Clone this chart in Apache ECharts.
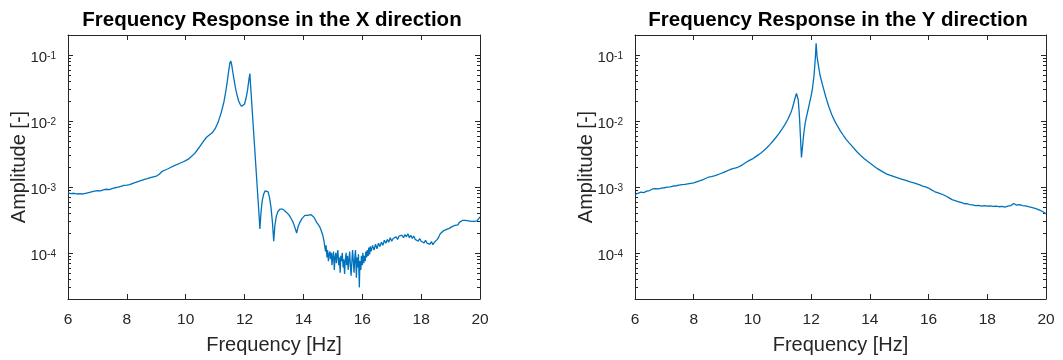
<!DOCTYPE html>
<html>
<head>
<meta charset="utf-8">
<script src="https://cdn.jsdelivr.net/npm/echarts@6/dist/echarts.min.js"></script>
<style>
  html, body { margin: 0; padding: 0; background: #fff; }
  #chart { width: 1063px; height: 360px; }
</style>
</head>
<body>
<div id="chart"></div>
<script>
// X direction response (frequency in Hz, amplitude)
const xFreq = [
  6.0, 6.1, 6.2, 6.3, 6.4, 6.5, 6.6, 6.7, 6.8, 6.9,
  7.0, 7.1, 7.2, 7.3, 7.4, 7.5, 7.6, 7.7, 7.8, 7.9,
  8.0, 8.1, 8.2, 8.3, 8.4, 8.5, 8.6, 8.7, 8.8, 8.9,
  9.0, 9.1, 9.2, 9.3, 9.4, 9.5, 9.6, 9.7, 9.8, 9.9,
  10.0, 10.1, 10.2, 10.3, 10.4, 10.5, 10.6, 10.7, 10.8, 10.9,
  11.0, 11.1, 11.2, 11.3, 11.35, 11.4, 11.45, 11.5, 11.53, 11.56,
  11.6, 11.65, 11.7, 11.75, 11.8, 11.85, 11.9, 11.95, 12.0, 12.05,
  12.1, 12.15, 12.18, 12.2, 12.25, 12.3, 12.35, 12.4, 12.45, 12.5,
  12.52, 12.56, 12.6, 12.65, 12.7, 12.75, 12.8, 12.85, 12.9, 12.95,
  12.99, 13.03, 13.08, 13.13, 13.2, 13.26, 13.3, 13.35, 13.4, 13.45,
  13.5, 13.55, 13.6, 13.65, 13.7, 13.77, 13.82, 13.88, 13.95, 14.0,
  14.05, 14.1, 14.15, 14.2, 14.25, 14.3, 14.35, 14.4, 14.45, 14.5,
  14.55, 14.6, 14.65, 14.7, 14.72, 14.75, 14.77, 14.8, 14.82, 14.85,
  14.87, 14.9, 14.92, 14.95, 14.97, 15.0, 15.02, 15.05, 15.07, 15.1,
  15.12, 15.15, 15.17, 15.2, 15.22, 15.25, 15.27, 15.3, 15.32, 15.35,
  15.37, 15.4, 15.42, 15.45, 15.47, 15.5, 15.52, 15.55, 15.57, 15.6,
  15.62, 15.65, 15.67, 15.7, 15.72, 15.75, 15.77, 15.8, 15.82, 15.85,
  15.87, 15.9, 15.92, 15.95, 15.97, 16.0, 16.02, 16.05, 16.07, 16.1,
  16.12, 16.15, 16.17, 16.2, 16.22, 16.25, 16.27, 16.3, 16.35, 16.4,
  16.45, 16.5, 16.55, 16.6, 16.65, 16.7, 16.75, 16.8, 16.85, 16.9,
  16.95, 17.0, 17.05, 17.1, 17.15, 17.2, 17.25, 17.3, 17.35, 17.4,
  17.45, 17.5, 17.55, 17.6, 17.65, 17.7, 17.75, 17.8, 17.85, 17.9,
  17.95, 18.0, 18.05, 18.1, 18.15, 18.2, 18.25, 18.3, 18.35, 18.4,
  18.45, 18.5, 18.55, 18.6, 18.65, 18.7, 18.75, 18.8, 18.85, 18.9,
  18.95, 19.0, 19.05, 19.1, 19.15, 19.2, 19.25, 19.3, 19.35, 19.4,
  19.45, 19.5, 19.55, 19.6, 19.65, 19.7, 19.75, 19.8, 19.85, 19.9,
  19.95, 20.0
];
const xAmp = [
  8.1e-4, 7.9e-4, 8.0e-4, 7.8e-4, 7.9e-4, 7.8e-4, 8.0e-4, 8.2e-4, 8.4e-4, 8.6e-4,
  8.8e-4, 8.7e-4, 9.0e-4, 9.2e-4, 9.1e-4, 9.4e-4, 9.7e-4, 9.9e-4, 1.02e-3, 1.05e-3,
  1.06e-3, 1.08e-3, 1.13e-3, 1.17e-3, 1.21e-3, 1.25e-3, 1.30e-3, 1.33e-3, 1.38e-3, 1.42e-3,
  1.45e-3, 1.55e-3, 1.72e-3, 1.80e-3, 1.88e-3, 1.98e-3, 2.08e-3, 2.18e-3, 2.28e-3, 2.38e-3,
  2.50e-3, 2.65e-3, 2.90e-3, 3.20e-3, 3.65e-3, 4.20e-3, 4.90e-3, 5.60e-3, 6.10e-3, 6.60e-3,
  7.60e-3, 9.5e-3, 1.30e-2, 1.95e-2, 2.6e-2, 3.6e-2, 5.3e-2, 7.5e-2, 8.1e-2, 7.2e-2,
  5.5e-2, 4.0e-2, 3.0e-2, 2.4e-2, 2.0e-2, 1.78e-2, 1.66e-2, 1.65e-2, 1.8e-2, 2.2e-2,
  2.9e-2, 4.3e-2, 5.2e-2, 3.7e-2, 1.7e-2, 7.6e-3, 3.5e-3, 1.58e-3, 7.2e-4, 3.3e-4,
  2.3e-4, 4.2e-4, 6.2e-4, 7.8e-4, 8.7e-4, 9.0e-4, 8.4e-4, 6.8e-4, 4.8e-4, 2.8e-4,
  1.5e-4, 2.6e-4, 3.6e-4, 4.2e-4, 4.6e-4, 4.8e-4, 4.6e-4, 4.5e-4, 4.2e-4, 4.0e-4,
  3.8e-4, 3.5e-4, 3.2e-4, 2.9e-4, 2.5e-4, 2.0e-4, 2.5e-4, 2.9e-4, 3.3e-4, 3.5e-4,
  3.7e-4, 3.8e-4, 3.7e-4, 3.9e-4, 3.8e-4, 3.7e-4, 3.5e-4, 3.2e-4, 2.9e-4, 2.7e-4,
  2.5e-4, 2.2e-4, 1.9e-4, 1.5e-4, 1.3e-4, 1.05e-4, 1.3e-4, 8.5e-5, 1.1e-4, 7.5e-5,
  9.5e-5, 1.05e-4, 8e-5, 1.0e-4, 6.5e-5, 9e-5, 1.05e-4, 5.5e-5, 8.5e-5, 1.0e-4,
  7e-5, 9.5e-5, 1.1e-4, 6.5e-5, 8.5e-5, 5e-5, 9e-5, 7.5e-5, 1.0e-4, 6e-5,
  8e-5, 4.8e-5, 7.5e-5, 1.0e-4, 6.5e-5, 9e-5, 5.5e-5, 8e-5, 1.05e-4, 6e-5,
  4.5e-5, 8e-5, 1.1e-4, 7e-5, 5e-5, 9e-5, 1.1e-4, 4.2e-5, 8.5e-5, 6e-5,
  9.5e-5, 3.0e-5, 7.5e-5, 5.5e-5, 9e-5, 6.5e-5, 1.0e-4, 7e-5, 9e-5, 7.5e-5,
  1.05e-4, 8.5e-5, 1.1e-4, 9e-5, 1.2e-4, 9.5e-5, 1.25e-4, 1.05e-4, 1.3e-4, 1.1e-4,
  1.35e-4, 1.15e-4, 1.4e-4, 1.25e-4, 1.45e-4, 1.3e-4, 1.55e-4, 1.4e-4, 1.6e-4, 1.45e-4,
  1.7e-4, 1.5e-4, 1.65e-4, 1.55e-4, 1.75e-4, 1.6e-4, 1.8e-4, 1.7e-4, 1.85e-4, 1.7e-4,
  1.9e-4, 1.75e-4, 1.95e-4, 1.7e-4, 1.85e-4, 1.65e-4, 1.8e-4, 1.6e-4, 1.7e-4, 1.5e-4,
  1.65e-4, 1.5e-4, 1.6e-4, 1.42e-4, 1.55e-4, 1.4e-4, 1.5e-4, 1.35e-4, 1.48e-4, 1.33e-4,
  1.45e-4, 1.4e-4, 1.6e-4, 1.75e-4, 1.95e-4, 2.0e-4, 2.15e-4, 2.05e-4, 2.25e-4, 2.15e-4,
  2.35e-4, 2.3e-4, 2.5e-4, 2.4e-4, 2.6e-4, 2.75e-4, 2.65e-4, 2.9e-4, 3.0e-4, 3.1e-4,
  3.0e-4, 3.1e-4, 2.95e-4, 3.05e-4, 2.95e-4, 3.0e-4, 2.9e-4, 3.0e-4, 3.1e-4, 3.05e-4,
  3.2e-4, 3.5e-4
];

// Y direction response
const yFreq = [
  6.0, 6.1, 6.2, 6.3, 6.4, 6.5, 6.6, 6.7, 6.8, 6.9,
  7.0, 7.1, 7.2, 7.3, 7.4, 7.5, 7.6, 7.7, 7.8, 7.9,
  8.0, 8.1, 8.2, 8.3, 8.4, 8.5, 8.6, 8.7, 8.8, 8.9,
  9.0, 9.1, 9.2, 9.3, 9.4, 9.5, 9.6, 9.7, 9.8, 9.9,
  10.0, 10.1, 10.2, 10.3, 10.4, 10.5, 10.6, 10.7, 10.8, 10.9,
  11.0, 11.1, 11.2, 11.3, 11.35, 11.4, 11.45, 11.5, 11.53, 11.56,
  11.6, 11.63, 11.67, 11.7, 11.75, 11.8, 11.85, 11.9, 11.95, 12.0,
  12.05, 12.1, 12.14, 12.17, 12.2, 12.25, 12.3, 12.38, 12.5, 12.6,
  12.7, 12.8, 12.9, 13.0, 13.1, 13.2, 13.3, 13.4, 13.5, 13.6,
  13.7, 13.8, 13.9, 14.0, 14.1, 14.2, 14.3, 14.4, 14.5, 14.6,
  14.7, 14.8, 14.9, 15.0, 15.1, 15.2, 15.3, 15.4, 15.5, 15.6,
  15.7, 15.8, 15.9, 16.0, 16.1, 16.2, 16.3, 16.4, 16.5, 16.6,
  16.7, 16.8, 16.9, 17.0, 17.1, 17.2, 17.3, 17.4, 17.5, 17.6,
  17.7, 17.8, 17.9, 18.0, 18.1, 18.2, 18.3, 18.4, 18.5, 18.6,
  18.7, 18.8, 18.9, 19.0, 19.1, 19.2, 19.3, 19.4, 19.5, 19.6,
  19.7, 19.8, 19.9, 20.0
];
const yAmp = [
  7.6e-4, 8.0e-4, 8.3e-4, 8.2e-4, 8.6e-4, 8.8e-4, 9.3e-4, 9.4e-4, 9.3e-4, 9.6e-4,
  9.7e-4, 9.9e-4, 1.0e-3, 1.03e-3, 1.04e-3, 1.06e-3, 1.08e-3, 1.09e-3, 1.11e-3, 1.13e-3,
  1.15e-3, 1.19e-3, 1.23e-3, 1.28e-3, 1.34e-3, 1.40e-3, 1.43e-3, 1.47e-3, 1.52e-3, 1.58e-3,
  1.64e-3, 1.72e-3, 1.80e-3, 1.87e-3, 1.92e-3, 1.98e-3, 2.08e-3, 2.22e-3, 2.38e-3, 2.52e-3,
  2.65e-3, 2.85e-3, 3.05e-3, 3.30e-3, 3.60e-3, 3.95e-3, 4.40e-3, 4.95e-3, 5.60e-3, 6.40e-3,
  7.40e-3, 8.70e-3, 1.04e-2, 1.30e-2, 1.5e-2, 1.8e-2, 2.2e-2, 2.6e-2, 2.6e-2, 2.1e-2,
  1.2e-2, 6.5e-3, 2.8e-3, 3.8e-3, 6.5e-3, 9.5e-3, 1.2e-2, 1.5e-2, 1.9e-2, 2.4e-2,
  3.2e-2, 5.0e-2, 8.5e-2, 1.5e-1, 9.5e-2, 6.8e-2, 5.0e-2, 3.6e-2, 2.3e-2, 1.65e-2,
  1.25e-2, 1.0e-2, 8.3e-3, 7.0e-3, 6.0e-3, 5.2e-3, 4.6e-3, 4.1e-3, 3.65e-3, 3.25e-3,
  2.95e-3, 2.7e-3, 2.48e-3, 2.3e-3, 2.12e-3, 1.97e-3, 1.84e-3, 1.73e-3, 1.63e-3, 1.55e-3,
  1.49e-3, 1.44e-3, 1.39e-3, 1.34e-3, 1.30e-3, 1.26e-3, 1.22e-3, 1.18e-3, 1.15e-3, 1.11e-3,
  1.07e-3, 1.03e-3, 1.0e-3, 9.6e-4, 9.0e-4, 8.5e-4, 8.2e-4, 7.9e-4, 7.6e-4, 7.2e-4,
  6.8e-4, 6.4e-4, 6.2e-4, 6.0e-4, 5.8e-4, 5.6e-4, 5.55e-4, 5.4e-4, 5.35e-4, 5.2e-4,
  5.25e-4, 5.1e-4, 5.2e-4, 5.1e-4, 5.15e-4, 5.05e-4, 5.1e-4, 5.0e-4, 5.05e-4, 4.95e-4,
  5.1e-4, 5.2e-4, 5.6e-4, 5.3e-4, 5.4e-4, 5.2e-4, 5.15e-4, 5.0e-4, 4.9e-4, 4.75e-4,
  4.6e-4, 4.4e-4, 4.2e-4, 3.9e-4
];

// axis ranges and minor tick positions (2..9 x 10^n)
const freqRange = [6, 20];
const ampRange = [2e-5, 0.2];
const minorMantissas = [2, 3, 4, 5, 6, 7, 8, 9];
const minorDecades = [1e-5, 1e-4, 1e-3, 1e-2];

const lineColor = '#0072BD';
const axisColor = '#262626';
const fontFamily = 'Liberation Sans, Arial, sans-serif';

const minorTickVals = [];
minorDecades.forEach((d) => {
  minorMantissas.forEach((m) => {
    const v = m * d;
    if (v > ampRange[0] && v < ampRange[1]) minorTickVals.push([freqRange[0], v]);
  });
});

const chart = echarts.init(document.getElementById('chart'), null, { renderer: 'canvas' });

const grids = [
  { left: 68, top: 35, width: 412, height: 268 },
  { left: 635, top: 35, width: 411, height: 268 },
];

// 10^n 标签
const logLabel = (value) => {
  const e = Math.log10(value);
  const r = Math.round(e);
  if (Math.abs(e - r) > 1e-6) return '';
  return '{b|10}{e|' + r + '}';
};

const xAxes = [];
const yAxes = [];
grids.forEach((g, i) => {
  xAxes.push({
    gridIndex: i,
    type: 'value',
    position: 'bottom',
    min: freqRange[0],
    max: freqRange[1],
    interval: 2,
    name: 'Frequency [Hz]',
    nameLocation: 'middle',
    nameGap: 36,
    nameMoveOverlap: false,
    nameTextStyle: { fontSize: 20, color: axisColor, fontFamily },
    axisLine: { show: true, lineStyle: { color: axisColor, width: 1 } },
    axisTick: { show: true, inside: true, length: 5, lineStyle: { color: axisColor } },
    axisLabel: { fontSize: 15.5, color: axisColor, margin: 13, fontFamily },
    splitLine: { show: false },
  });
  xAxes.push({
    gridIndex: i,
    type: 'value',
    position: 'top',
    min: freqRange[0],
    max: freqRange[1],
    interval: 2,
    axisLine: { show: true, lineStyle: { color: axisColor, width: 1 } },
    axisTick: { show: true, inside: true, length: 5, lineStyle: { color: axisColor } },
    axisLabel: { show: false },
    splitLine: { show: false },
  });
  yAxes.push({
    gridIndex: i,
    type: 'log',
    logBase: 10,
    position: 'left',
    min: ampRange[0],
    max: ampRange[1],
    name: 'Amplitude [-]',
    nameLocation: 'middle',
    nameGap: 39,
    nameMoveOverlap: false,
    nameTextStyle: { fontSize: 20, color: axisColor, fontFamily },
    axisLine: { show: true, lineStyle: { color: axisColor, width: 1 } },
    axisTick: { show: true, inside: true, length: 5, lineStyle: { color: axisColor } },
    axisLabel: {
      margin: 12,
      formatter: logLabel,
      rich: {
        b: { fontSize: 15, color: axisColor, fontFamily, lineHeight: 18, padding: [6, 0, 0, 0] },
        e: { fontSize: 10, color: axisColor, fontFamily, lineHeight: 12, verticalAlign: 'top', padding: [5, 0, 0, 0] },
      },
    },
    splitLine: { show: false },
  });
  yAxes.push({
    gridIndex: i,
    type: 'log',
    logBase: 10,
    position: 'right',
    min: ampRange[0],
    max: ampRange[1],
    axisLine: { show: true, lineStyle: { color: axisColor, width: 1 } },
    axisTick: { show: true, inside: true, length: 5, lineStyle: { color: axisColor } },
    axisLabel: { show: false },
    splitLine: { show: false },
  });
});

// 次刻度 (左右两侧)
const minorTickItem = (params, api) => {
  const cs = params.coordSys;
  const y = Math.round(api.coord([api.value(0), api.value(1)])[1]) + 0.5;
  const len = 3;
  const style = { stroke: axisColor, lineWidth: 1 };
  return {
    type: 'group',
    children: [
      { type: 'line', shape: { x1: cs.x, y1: y, x2: cs.x + len, y2: y }, style },
      { type: 'line', shape: { x1: cs.x + cs.width, y1: y, x2: cs.x + cs.width - len, y2: y }, style },
    ],
  };
};

const curve = (freq, amp) => freq.map((f, i) => [f, amp[i]]);

const series = [
  {
    type: 'line',
    xAxisIndex: 0,
    yAxisIndex: 0,
    data: curve(xFreq, xAmp),
    showSymbol: false,
    symbol: 'none',
    lineStyle: { color: lineColor, width: 1.3 },
    itemStyle: { color: lineColor },
  },
  {
    type: 'line',
    xAxisIndex: 2,
    yAxisIndex: 2,
    data: curve(yFreq, yAmp),
    showSymbol: false,
    symbol: 'none',
    lineStyle: { color: lineColor, width: 1.3 },
    itemStyle: { color: lineColor },
  },
  {
    type: 'custom',
    xAxisIndex: 0,
    yAxisIndex: 0,
    data: minorTickVals,
    renderItem: minorTickItem,
    silent: true,
    clip: false,
  },
  {
    type: 'custom',
    xAxisIndex: 2,
    yAxisIndex: 2,
    data: minorTickVals,
    renderItem: minorTickItem,
    silent: true,
    clip: false,
  },
];

const titleStyle = { fontSize: 20.5, fontWeight: 'bold', color: '#000', fontFamily };

chart.setOption({
  animation: false,
  backgroundColor: '#fff',
  title: [
    { text: 'Frequency Response in the X direction', left: 272, top: 10, textAlign: 'center', padding: 0, textStyle: titleStyle },
    { text: 'Frequency Response in the Y direction', left: 838, top: 10, textAlign: 'center', padding: 0, textStyle: titleStyle },
  ],
  grid: grids,
  xAxis: xAxes,
  yAxis: yAxes,
  series,
});

window.addEventListener('resize', () => chart.resize());
</script>
</body>
</html>
